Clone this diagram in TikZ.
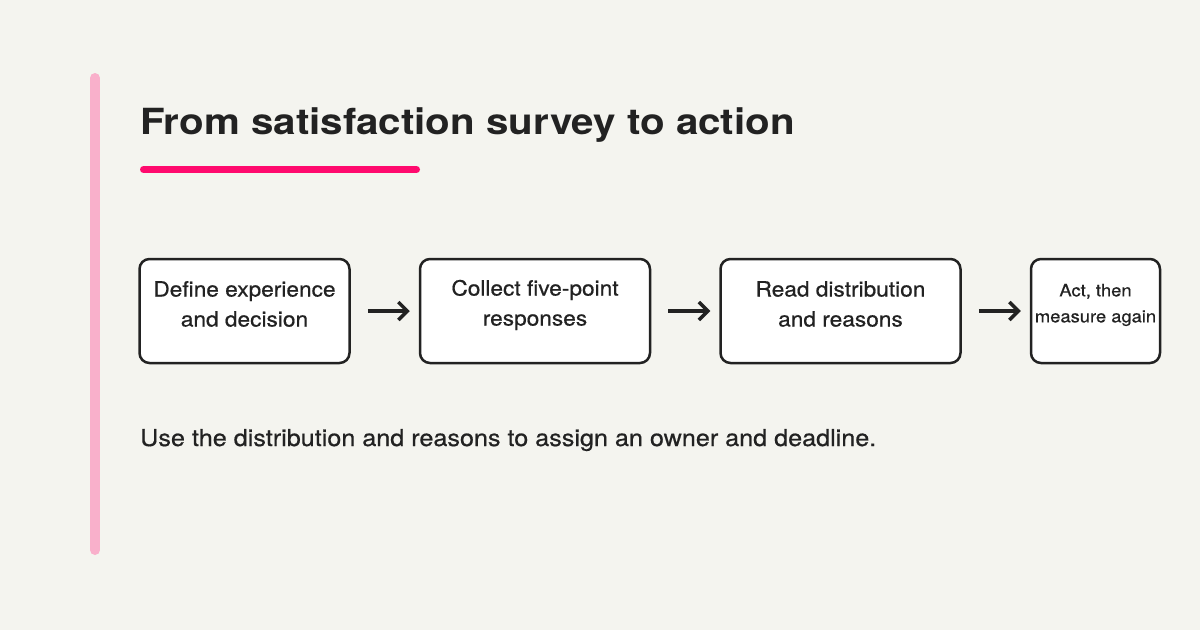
\documentclass[tikz,border=0pt]{standalone}
\usepackage{fontspec}
\setmainfont{TeX Gyre Heros}
\newfontfamily\headfont{TeX Gyre Heros}[FakeStretch=1.12]
\newfontfamily\bodyfont{TeX Gyre Heros}[FakeStretch=1.08,FakeBold=0.6]
\usetikzlibrary{positioning,arrows.meta}

\definecolor{bg}{HTML}{F4F4EF}
\definecolor{ink}{HTML}{222222}
\definecolor{accent}{HTML}{FF0A6E}
\definecolor{barpink}{HTML}{F9B0CB}

\tikzset{
  stepbox/.style={draw=ink,line width=2.5pt,rounded corners=10pt,fill=white,
    minimum height=104pt,inner sep=0pt},
  steptext/.style={text=ink,align=center,inner sep=0pt,
    font=\bodyfont\fontsize{21}{30}\selectfont},
  flow/.style={->,ink,line width=3.5pt,shorten <=17pt,shorten >=9pt}
}

\begin{document}
\begin{tikzpicture}[x=1pt,y=-1pt,>={Straight Barb[length=9pt,width=18pt]}]
  % Background
  \fill[bg] (0,0) rectangle (1200,630);
  \useasboundingbox (0,0) rectangle (1200,630);

  % Side bar and heading
  \draw[barpink,line width=10pt,line cap=round] (95,78) -- (95,550);
  \node[anchor=base west,inner sep=0pt,text=ink,font=\headfont\bfseries\fontsize{36}{44}\selectfont]
    (title) at (140,134) {From satisfaction survey to action};
  \draw[accent,line width=7pt,line cap=round] (143.5,169.5) -- (416.5,169.5);

  % Steps
  \node[stepbox,minimum width=210pt] (define) at (244.5,311) {};
  \node[stepbox,minimum width=230pt,right=68pt of define] (collect) {};
  \node[stepbox,minimum width=240pt,right=68pt of collect] (read) {};
  \node[stepbox,minimum width=129pt,right=68pt of read] (act) {};

  \node[steptext] (definetext) at ([yshift=7pt]define.center) {Define experience\\and decision};
  \node[steptext] (collecttext) at ([yshift=6pt]collect.center) {Collect five-point\\responses};
  \node[steptext] (readtext) at ([yshift=7pt]read.center) {Read distribution\\and reasons};
  \node[steptext,font=\bodyfont\fontsize{17}{26}\selectfont] (acttext) at ([yshift=6pt]act.center) {Act, then\\measure again};

  % Arrows
  \draw[flow] (define) -- (collect);
  \draw[flow] (collect) -- (read);
  \draw[flow] (read) -- (act);

  % Note
  \node[anchor=base west,inner sep=0pt,text=ink,font=\bodyfont\fontsize{23.3}{28}\selectfont]
    (note) at (140,446) {Use the distribution and reasons to assign an owner and deadline.};
\end{tikzpicture}
\end{document}
